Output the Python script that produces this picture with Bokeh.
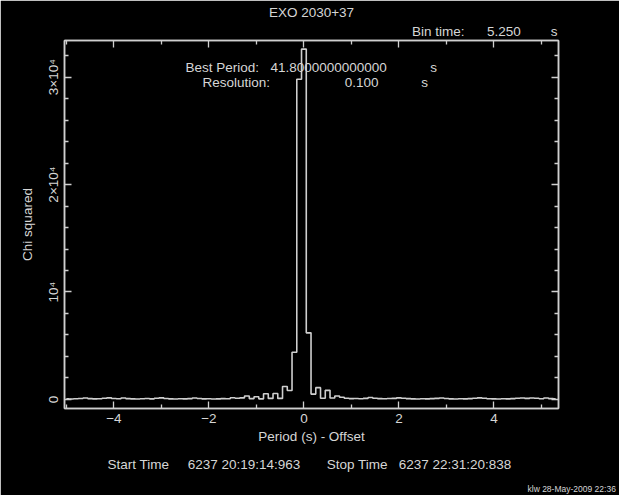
from bokeh.plotting import figure
from bokeh.models import Label, LinearAxis, FixedTicker, Range1d, CustomJSTickFormatter, Title
from bokeh.embed import file_html
from bokeh.resources import INLINE

# ---------------- data ----------------
title_text = "EXO 2030+37"
offsets = [-5.0, -4.9, -4.8, -4.7, -4.6, -4.5, -4.4, -4.3, -4.2, -4.1,
           -4.0, -3.9, -3.8, -3.7, -3.6, -3.5, -3.4, -3.3, -3.2, -3.1,
           -3.0, -2.9, -2.8, -2.7, -2.6, -2.5, -2.4, -2.3, -2.2, -2.1,
           -2.0, -1.9, -1.8, -1.7, -1.6, -1.5, -1.4, -1.3, -1.2, -1.1,
           -1.0, -0.9, -0.8, -0.7, -0.6, -0.5, -0.4, -0.3, -0.2, -0.1,
           0.0, 0.1, 0.2, 0.3, 0.4, 0.5, 0.6, 0.7, 0.8, 0.9,
           1.0, 1.1, 1.2, 1.3, 1.4, 1.5, 1.6, 1.7, 1.8, 1.9,
           2.0, 2.1, 2.2, 2.3, 2.4, 2.5, 2.6, 2.7, 2.8, 2.9,
           3.0, 3.1, 3.2, 3.3, 3.4, 3.5, 3.6, 3.7, 3.8, 3.9,
           4.0, 4.1, 4.2, 4.3, 4.4, 4.5, 4.6, 4.7, 4.8, 4.9,
           5.0, 5.1, 5.2, 5.3]
chi2 = [60, 50, 70, 90, 140, 80, 60, 70, 110, 150,
        90, 70, 140, 80, 60, 50, 70, 90, 60, 120,
        150, 90, 60, 50, 70, 60, 80, 140, 90, 60,
        70, 50, 60, 80, 70, 160, 120, 150, 330, 80,
        250, 60, 530, 100, 560, 100, 1200, 840, 4400, 29800,
        32600, 6200, 500, 1100, 120, 850, 130, 330, 200, 110,
        80, 90, 70, 100, 180, 110, 80, 70, 90, 100,
        150, 120, 80, 60, 50, 70, 60, 80, 100, 140,
        90, 60, 50, 70, 60, 80, 110, 150, 120, 70,
        60, 50, 70, 60, 80, 120, 140, 100, 130, 110,
        70, 130, 80, 60]

x_major = [-4, -2, 0, 2, 4]
x_minor = [-5, -3, -1, 1, 3, 5]
x_labels = {-4: "\u22124", -2: "\u22122", 0: "0", 2: "2", 4: "4"}
y_major = [0, 10000, 20000, 30000]
y_minor = [2000, 4000, 6000, 8000, 12000, 14000, 16000, 18000,
           22000, 24000, 26000, 28000, 32000]
y_labels = {0: "0", 10000: "10\u2074", 20000: "2\u00d710\u2074", 30000: "3\u00d710\u2074"}

x_title = "Period (s) - Offset"
y_title = "Chi squared"

NB = "\u00a0"  # non-breaking space keeps the wide gaps of the original
bin_line = "Bin time:" + NB * 6 + "5.250" + NB * 8 + "s"
time_line = ("Start Time" + NB * 5 + "6237 20:19:14:963" + NB * 7 +
             "Stop Time" + NB * 3 + "6237 22:31:20:838")
stamp = "klw 28-May-2009 22:36"

# ---------------- style ----------------
BG = "#000000"
LINE = "#cfcfcf"
TXT = "#d6d6d6"
FONT = "Liberation Sans"
FS = "13.5px"

W, H = 619, 495
FL, FR, FT, FB = 64, 558, 40, 408   # frame edges in page pixels

p = figure(width=W, height=H, output_backend="svg", toolbar_location=None,
           x_range=Range1d(-5.04, 5.36), y_range=Range1d(-840, 33400),
           x_axis_type=None, y_axis_type=None,
           background_fill_color=BG, border_fill_color=BG,
           min_border_left=FL, min_border_right=W - FR,
           min_border_top=FT, min_border_bottom=H - FB)
p.outline_line_color = LINE
p.outline_line_width = 1.5
p.grid.visible = False


def style_axis(ax, show_labels):
    ax.axis_line_color = LINE
    ax.axis_line_width = 1.5
    ax.major_tick_line_color = LINE
    ax.minor_tick_line_color = LINE
    ax.major_tick_line_width = 1.3
    ax.minor_tick_line_width = 1.3
    ax.major_tick_in = 7
    ax.major_tick_out = 0
    ax.minor_tick_in = 4
    ax.minor_tick_out = 0
    ax.major_label_text_color = TXT
    ax.major_label_text_font = FONT
    ax.major_label_text_font_size = FS
    ax.axis_label_text_color = TXT
    ax.axis_label_text_font = FONT
    ax.axis_label_text_font_size = FS
    ax.axis_label_text_font_style = "normal"
    if not show_labels:
        ax.formatter = CustomJSTickFormatter(code="return ''")
        ax.major_label_standoff = 0


xb = LinearAxis(ticker=FixedTicker(ticks=x_major, minor_ticks=x_minor))
style_axis(xb, True)
xb.major_label_overrides = x_labels
xb.major_label_standoff = 5
xb.axis_label = x_title
xb.axis_label_standoff = 3
p.add_layout(xb, "below")

xt = LinearAxis(ticker=FixedTicker(ticks=x_major, minor_ticks=x_minor))
style_axis(xt, False)
p.add_layout(xt, "above")

yl = LinearAxis(ticker=FixedTicker(ticks=y_major, minor_ticks=y_minor))
style_axis(yl, True)
yl.major_label_overrides = y_labels
yl.major_label_orientation = "vertical"
yl.major_label_standoff = 3
yl.axis_label = y_title
yl.axis_label_standoff = 9
p.add_layout(yl, "left")

yr = LinearAxis(ticker=FixedTicker(ticks=y_major, minor_ticks=y_minor))
style_axis(yr, False)
p.add_layout(yr, "right")

p.step(offsets, chi2, mode="center", line_color=LINE, line_width=1.6)


def title(txt, align, offset, standoff, size=FS):
    return Title(text=txt, align=align, offset=offset, standoff=standoff,
                 vertical_align="middle", text_color=TXT, text_font=FONT,
                 text_font_size=size, text_font_style="normal",
                 background_fill_color=None)


# texts above the frame (first added sits nearest the frame)
p.add_layout(title(bin_line, "right", 1, 2), "above")
p.add_layout(title(title_text, "center", 0, 2), "above")
# texts below the axis
p.add_layout(title(time_line, "left", 107 - FL, 19), "below")
p.add_layout(title(stamp, "left", 527 - FL, 0, size="8.5px"), "below")


def add_frame_text(txt, x, y_page, align="left"):
    # Label screen units are measured from the frame's bottom-left corner
    p.add_layout(Label(x=x - FL, y=FB - y_page, x_units="screen", y_units="screen",
                       text=txt, text_align=align, text_baseline="middle",
                       text_color=TXT, text_font=FONT, text_font_size=FS))


add_frame_text("Best Period:", 185, 67)
add_frame_text("41.8000000000000", 270, 67)
add_frame_text("s", 433, 67, "center")
add_frame_text("Resolution:", 202, 82)
add_frame_text("0.100", 378, 82, "right")
add_frame_text("s", 424, 82, "center")

open("out.html", "w").write(file_html(p, INLINE))
